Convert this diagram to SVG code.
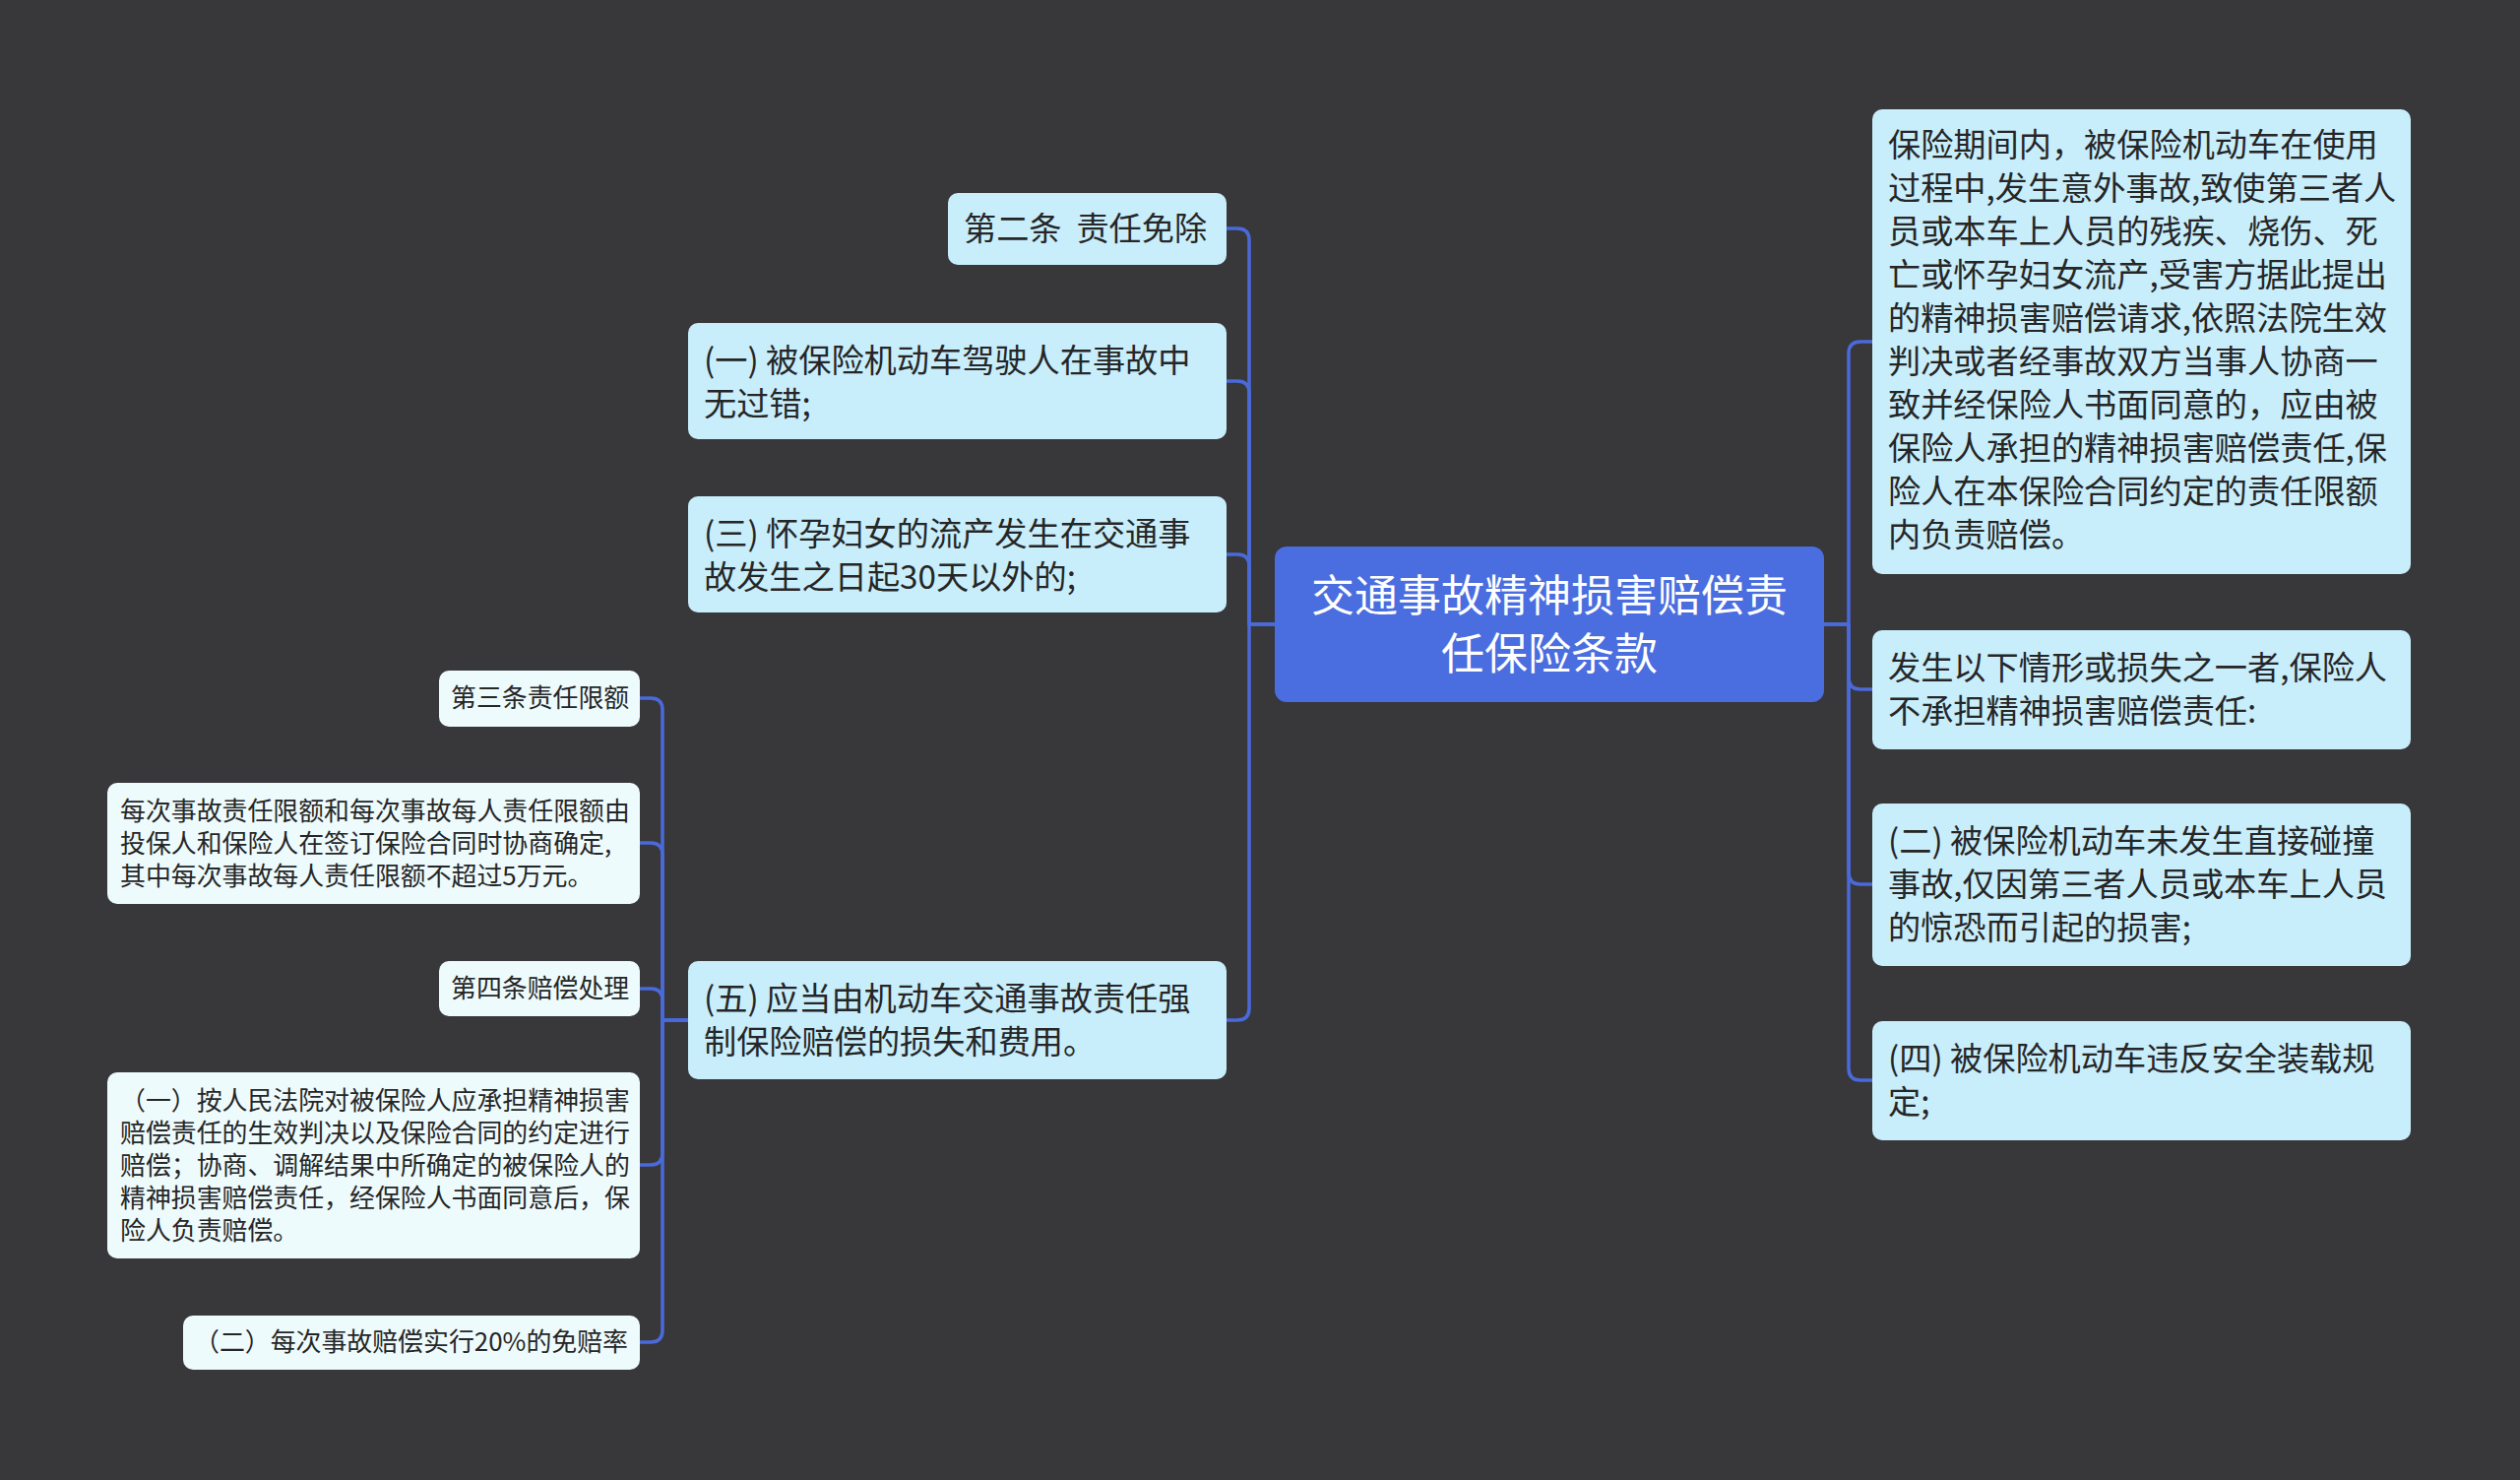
<svg xmlns="http://www.w3.org/2000/svg" width="2560" height="1503" viewBox="0 0 2560 1503">
<style>
.n1{fill:#c8eefc;}
.n2{fill:#eefbfd;}
.t1{font-family:"Noto Sans CJK SC","Noto Sans",sans-serif;font-size:33.2px;fill:#262626;}
.t2{font-family:"Noto Sans CJK SC","Noto Sans",sans-serif;font-size:25.9px;fill:#262626;}
.tc{font-family:"Noto Sans CJK SC","Noto Sans",sans-serif;font-size:44px;fill:#ffffff;text-anchor:middle;}
.c{fill:none;stroke:#4a6ad9;stroke-width:3.5;stroke-linecap:round;stroke-linejoin:round;}
</style>
<rect x="0" y="0" width="2560" height="1503" fill="#38373a"/>
<g id="connectors">
<path class="c" d="M1295 634 H1269 V244 Q1269 232 1257 232 H1246"/>
<path class="c" d="M1295 634 H1269 V399 Q1269 387 1257 387 H1246"/>
<path class="c" d="M1295 634 H1269 V575 Q1269 563 1257 563 H1246"/>
<path class="c" d="M1295 634 H1269 V1024 Q1269 1036 1257 1036 H1246"/>
<path class="c" d="M699 1036 H673 V721 Q673 709 661 709 H650"/>
<path class="c" d="M699 1036 H673 V868 Q673 856 661 856 H650"/>
<path class="c" d="M699 1036 H673 V1016 Q673 1004 661 1004 H650"/>
<path class="c" d="M699 1036 H673 V1171 Q673 1183 661 1183 H650"/>
<path class="c" d="M699 1036 H673 V1351 Q673 1363 661 1363 H650"/>
<path class="c" d="M1853 634 H1878 V359 Q1878 347 1890 347 H1902"/>
<path class="c" d="M1853 634 H1878 V688 Q1878 700 1890 700 H1902"/>
<path class="c" d="M1853 634 H1878 V886 Q1878 898 1890 898 H1902"/>
<path class="c" d="M1853 634 H1878 V1085 Q1878 1097 1890 1097 H1902"/>
</g>
<g id="root">
<rect x="1295" y="555" width="558" height="158" rx="12" fill="#4a6ddf"/>
<text class="tc" x="1574" y="621">交通事故精神损害赔偿责</text>
<text class="tc" x="1574" y="680">任保险条款</text>
</g>
<g id="n-l1">
<rect class="n1" x="963" y="196" width="283" height="73" rx="10"/>
<text class="t1" x="979" y="244" xml:space="preserve">第二条  责任免除</text>
</g>
<g id="n-l2">
<rect class="n1" x="699" y="328" width="547" height="118" rx="10"/>
<text class="t1" x="715" y="378">(一) 被保险机动车驾驶人在事故中</text>
<text class="t1" x="715" y="422">无过错;</text>
</g>
<g id="n-l3">
<rect class="n1" x="699" y="504" width="547" height="118" rx="10"/>
<text class="t1" x="715" y="554">(三) 怀孕妇女的流产发生在交通事</text>
<text class="t1" x="715" y="598">故发生之日起30天以外的;</text>
</g>
<g id="n-l4">
<rect class="n1" x="699" y="976" width="547" height="120" rx="10"/>
<text class="t1" x="715" y="1026">(五) 应当由机动车交通事故责任强</text>
<text class="t1" x="715" y="1070">制保险赔偿的损失和费用。</text>
</g>
<g id="n-s1">
<rect class="n2" x="446" y="681" width="204" height="57" rx="10"/>
<text class="t2" x="458" y="718">第三条责任限额</text>
</g>
<g id="n-s2">
<rect class="n2" x="109" y="795" width="541" height="123" rx="10"/>
<text class="t2" x="122" y="833">每次事故责任限额和每次事故每人责任限额由</text>
<text class="t2" x="122" y="866">投保人和保险人在签订保险合同时协商确定,</text>
<text class="t2" x="122" y="899">其中每次事故每人责任限额不超过5万元。</text>
</g>
<g id="n-s3">
<rect class="n2" x="446" y="976" width="204" height="56" rx="10"/>
<text class="t2" x="458" y="1013">第四条赔偿处理</text>
</g>
<g id="n-s4">
<rect class="n2" x="109" y="1089" width="541" height="189" rx="10"/>
<text class="t2" x="122" y="1127">（一）按人民法院对被保险人应承担精神损害</text>
<text class="t2" x="122" y="1160">赔偿责任的生效判决以及保险合同的约定进行</text>
<text class="t2" x="122" y="1193">赔偿；协商、调解结果中所确定的被保险人的</text>
<text class="t2" x="122" y="1226">精神损害赔偿责任，经保险人书面同意后，保</text>
<text class="t2" x="122" y="1259">险人负责赔偿。</text>
</g>
<g id="n-s5">
<rect class="n2" x="186" y="1336" width="464" height="55" rx="10"/>
<text class="t2" x="197" y="1372">（二）每次事故赔偿实行20%的免赔率</text>
</g>
<g id="n-r1">
<rect class="n1" x="1902" y="111" width="547" height="472" rx="10"/>
<text class="t1" x="1918" y="159">保险期间内，被保险机动车在使用</text>
<text class="t1" x="1918" y="203">过程中,发生意外事故,致使第三者人</text>
<text class="t1" x="1918" y="247">员或本车上人员的残疾、烧伤、死</text>
<text class="t1" x="1918" y="291">亡或怀孕妇女流产,受害方据此提出</text>
<text class="t1" x="1918" y="335">的精神损害赔偿请求,依照法院生效</text>
<text class="t1" x="1918" y="379">判决或者经事故双方当事人协商一</text>
<text class="t1" x="1918" y="423">致并经保险人书面同意的，应由被</text>
<text class="t1" x="1918" y="467">保险人承担的精神损害赔偿责任,保</text>
<text class="t1" x="1918" y="511">险人在本保险合同约定的责任限额</text>
<text class="t1" x="1918" y="555">内负责赔偿。</text>
</g>
<g id="n-r2">
<rect class="n1" x="1902" y="640" width="547" height="121" rx="10"/>
<text class="t1" x="1918" y="690">发生以下情形或损失之一者,保险人</text>
<text class="t1" x="1918" y="734">不承担精神损害赔偿责任:</text>
</g>
<g id="n-r3">
<rect class="n1" x="1902" y="816" width="547" height="165" rx="10"/>
<text class="t1" x="1918" y="866">(二) 被保险机动车未发生直接碰撞</text>
<text class="t1" x="1918" y="910">事故,仅因第三者人员或本车上人员</text>
<text class="t1" x="1918" y="954">的惊恐而引起的损害;</text>
</g>
<g id="n-r4">
<rect class="n1" x="1902" y="1037" width="547" height="121" rx="10"/>
<text class="t1" x="1918" y="1087">(四) 被保险机动车违反安全装载规</text>
<text class="t1" x="1918" y="1131">定;</text>
</g>
</svg>
